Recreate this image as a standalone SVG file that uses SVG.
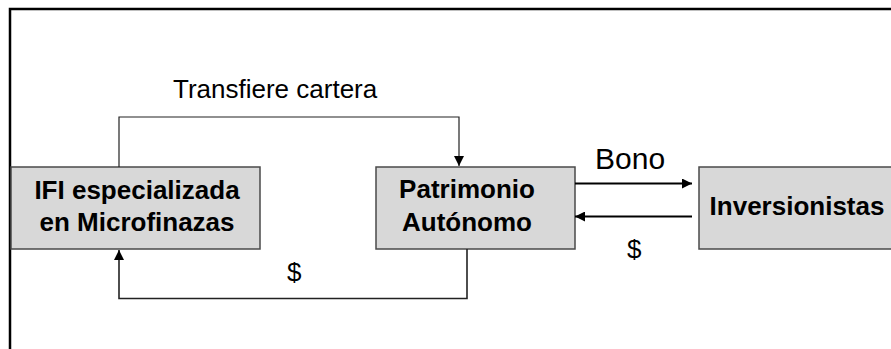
<svg xmlns="http://www.w3.org/2000/svg" width="891" height="349" viewBox="0 0 891 349">
  <style>
    .frame { fill: none; stroke: #000; stroke-width: 2.5; }
    .box { fill: #d8d8d8; stroke: #4a4a4a; stroke-width: 1.5; }
    .label { font-family: "Liberation Sans", Arial, sans-serif; font-weight: bold; font-size: 26px; fill: #000; text-anchor: middle; }
    .note { font-family: "Liberation Sans", Arial, sans-serif; font-size: 26px; fill: #000; }
    .link { fill: none; stroke: #222; stroke-width: 1.2; }
    .flow { fill: none; stroke: #000; stroke-width: 2; }
  </style>
  <defs>
    <marker id="arrow" viewBox="0 0 10 10" refX="10" refY="5" markerWidth="10" markerHeight="10" markerUnits="userSpaceOnUse" orient="auto">
      <path d="M0,0 L10,5 L0,10 z" fill="#000"/>
    </marker>
  </defs>

  <!-- outer frame (top and left edges) -->
  <path class="frame" d="M10,349 V9 H891"/>

  <g id="ifi">
    <rect class="box" x="11" y="167" width="249" height="82"/>
    <text class="label" x="137" y="199">IFI especializada</text>
    <text class="label" x="137" y="231">en Microfinazas</text>
  </g>

  <g id="patrimonio">
    <rect class="box" x="376" y="167" width="199" height="82"/>
    <text class="label" x="467" y="198">Patrimonio</text>
    <text class="label" x="467" y="231">Autónomo</text>
  </g>

  <g id="inversionistas">
    <rect class="box" x="699" y="167" width="200" height="82"/>
    <text class="label" x="797" y="215">Inversionistas</text>
  </g>

  <g id="connectors">
    <path class="link" d="M119,167 V117 H459 V166" marker-end="url(#arrow)"/>
    <path class="link" style="stroke-width:1.6" d="M467,249 V298.5 H119 V250" marker-end="url(#arrow)"/>
    <path class="flow" d="M575,183.5 H692" marker-end="url(#arrow)"/>
    <path class="flow" d="M692,216.5 H575" marker-end="url(#arrow)"/>
  </g>

  <g id="labels">
    <text class="note" x="173" y="98">Transfiere cartera</text>
    <text class="note" x="595" y="169" style="font-size:30px">Bono</text>
    <text class="note" x="627" y="258">$</text>
    <text class="note" x="287" y="281">$</text>
  </g>
</svg>
